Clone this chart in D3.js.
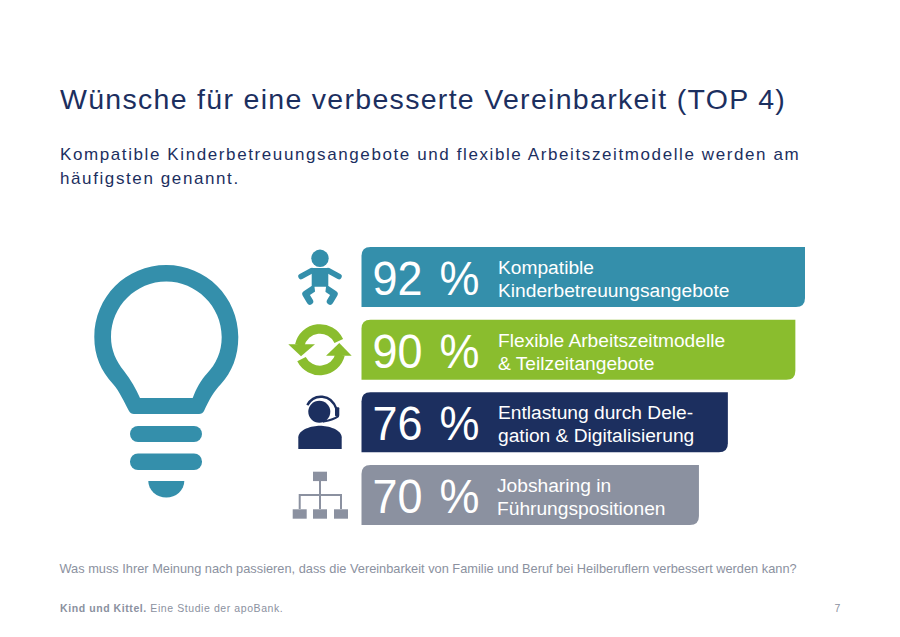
<!DOCTYPE html>
<html>
<head>
<meta charset="utf-8">
<script src="https://cdn.jsdelivr.net/npm/d3@7"></script>
<style>
  html, body { margin: 0; padding: 0; background: #fff; }
  text { font-family: "Liberation Sans", Arial, sans-serif; }
</style>
</head>
<body>
<div id="chart"></div>
<script>
const categories = ["kinder", "arbeitszeit", "entlastung", "jobsharing"];
const values = [92, 90, 76, 70];
const labelLines = [
    ["Kompatible", "Kinderbetreuungsangebote"],
    ["Flexible Arbeitszeitmodelle", "& Teilzeitangebote"],
    ["Entlastung durch Dele-", "gation & Digitalisierung"],
    ["Jobsharing in", "Führungspositionen"]
];
const barColors = ["#348fab", "#8abd2e", "#1c2f5f", "#8b91a0"];

const navy = "#1c2f5f";
const grey = "#8b91a0";
const teal = "#348fab";

const width = 900;
const height = 637;

const svg = d3.select("#chart")
    .append("svg")
    .attr("width", width)
    .attr("height", height)
    .style("display", "block");

// Heading
svg.append("text").attr("x", 60).attr("y", 109)
    .attr("font-size", 28.5).attr("letter-spacing", 1.3).attr("fill", navy)
    .text("Wünsche für eine verbesserte Vereinbarkeit (TOP 4)");

const subtitle = ["Kompatible Kinderbetreuungsangebote und flexible Arbeitszeitmodelle werden am", "häufigsten genannt."];
svg.selectAll("text.sub").data(subtitle).enter().append("text")
    .attr("class", "sub")
    .attr("x", 60).attr("y", (d, i) => 160 + i * 24)
    .attr("font-size", 17).attr("letter-spacing", 1.6).attr("fill", navy)
    .text(d => d);

// Bars
const x = d3.scaleLinear().domain([0, 92]).range([361.5, 805]);
const y = d3.scaleBand().domain(categories).range([247, 525]).paddingInner(0.174);

function barPath(v, c) {
    // rounded top-left and bottom-right corners only
    const r = 9, x0 = x(0), x1 = x(v), y0 = y(c), y1 = y(c) + y.bandwidth();
    const p = d3.path();
    p.moveTo(x0, y1);
    p.lineTo(x0, y0 + r);
    p.quadraticCurveTo(x0, y0, x0 + r, y0);
    p.lineTo(x1, y0);
    p.lineTo(x1, y1 - r);
    p.quadraticCurveTo(x1, y1, x1 - r, y1);
    p.closePath();
    return p.toString();
}

const rows = svg.selectAll("g.row")
    .data(categories)
    .enter()
    .append("g")
    .attr("class", "row");

rows.append("path")
    .attr("d", (c, i) => barPath(values[i], c))
    .attr("fill", (c, i) => barColors[i]);

// the big numbers are a bit condensed in the original
rows.append("text")
    .attr("x", 372.5)
    .attr("y", c => y(c) + 48)
    .attr("font-size", 49)
    .attr("fill", "#fff")
    .attr("word-spacing", 5)
    .attr("textLength", 107)
    .attr("lengthAdjust", "spacingAndGlyphs")
    .text((c, i) => values[i] + " %");

rows.each(function (c, i) {
    d3.select(this).selectAll("text.label")
        .data(labelLines[i])
        .enter()
        .append("text")
        .attr("class", "label")
        .attr("x", i === 3 ? 497 : 498)
        .attr("y", (d, j) => y(c) + 27 + j * 23)
        .attr("font-size", 19.2)
        .attr("fill", "#fff")
        .text(d => d);
});

// Icons, each drawn around the centre of its row
const iconX = 320;
const icon = c => svg.append("g")
    .attr("transform", `translate(${iconX},${y(c) + y.bandwidth() / 2})`);

// baby
const baby = icon(categories[0]).attr("fill", teal).attr("stroke", "none");
baby.append("circle").attr("cx", 0).attr("cy", -18.7).attr("r", 8.7);
baby.append("path").attr("d", "M-8.3 -9 H8.3 V12 H-8.3 Z");
baby.append("path").attr("fill", "none").attr("stroke", teal).attr("stroke-width", 5.5)
    .attr("stroke-linecap", "round").attr("stroke-linejoin", "round")
    .attr("d", "M-8 -6.5 L-19 -0.5 M8 -6.5 L19 -0.5");
baby.append("path").attr("fill", "none").attr("stroke", teal).attr("stroke-width", 6.5)
    .attr("stroke-linecap", "round").attr("stroke-linejoin", "round")
    .attr("d", "M-7 12 L-14.5 17 L-10 24.5 M7 12 L14.5 17 L10 24.5");
baby.append("path").attr("fill", "#fff").attr("d", "M-5.5 9.7 H6 L5 18 H-4.5 Z");

// arrows going round
const ring = d3.arc().innerRadius(16).outerRadius(25.5);
const turn = icon(categories[1]).attr("fill", barColors[1]);
const deg = Math.PI / 180;
turn.append("path").attr("d", ring({ startAngle: -78 * deg, endAngle: 65 * deg }));
turn.append("path").attr("d", ring({ startAngle: 104 * deg, endAngle: 243 * deg }));
turn.append("path").attr("d", "M-31.7 -5.5 H-5 L-19 6.5 Z");
turn.append("path").attr("d", "M31.7 6 H6 L19.3 -6.7 Z");

// person with headset
const agent = icon(categories[2]).attr("fill", navy);
agent.append("path").attr("d", "M-21.7 26.7 V15 C-21.7 7 -8 3.3 0 3.3 C8 3.3 21.7 7 21.7 15 V26.7 Z");
agent.append("circle").attr("cx", -0.7).attr("cy", -10.5).attr("r", 11);
agent.append("path").attr("fill", "none").attr("stroke", navy).attr("stroke-width", 2.4)
    .attr("d", "M-12.7 -17.3 C-6 -29 11 -29 16.7 -13");
agent.append("rect").attr("x", 15).attr("y", -15).attr("width", 4.3).attr("height", 9).attr("rx", 1);
agent.append("path").attr("fill", "none").attr("stroke", navy).attr("stroke-width", 2)
    .attr("stroke-linecap", "round").attr("d", "M18 -6 Q14 -3 3.5 -0.7");

// org chart
const org = icon(categories[3]).attr("fill", grey);
org.append("path").attr("fill", "none").attr("stroke", grey).attr("stroke-width", 2)
    .attr("d", "M0 -14 V14 M-20.3 14 V0 H21 V14");
org.selectAll("rect").data([[0, -23.3], [-20.3, 14.3], [0, 14.3], [21, 14.3]]).enter().append("rect")
    .attr("x", d => d[0] - 7).attr("y", d => d[1]).attr("width", 14).attr("height", 9.4);

// Light bulb
const bulb = svg.append("g").attr("fill", teal);
bulb.append("path")
    .attr("fill-rule", "evenodd")
    .attr("d", "M166.3 265 C126 265 94.3 297 94.3 337 C94.3 356 101 371 113 384 C120 392 124 402 129 411 Q130.5 414 134 414 H199 Q202.5 414 204 411 C209 400 214 391 221 384 C232 372 238.3 356 238.3 337 C238.3 297 206 265 166.3 265 Z"
        + "M166.3 281.5 C196 281.5 221.7 306 221.7 337 C221.7 352 216 364 207 373.5 C201 380 196 389 192.7 398 H140 C136 389 131 380 124 371 C116 361 111 350 111 337 C111 306 136 281.5 166.3 281.5 Z");
bulb.append("rect").attr("x", 130).attr("y", 426).attr("width", 72).attr("height", 16).attr("rx", 8);
bulb.append("rect").attr("x", 130).attr("y", 453.5).attr("width", 72).attr("height", 16.5).attr("rx", 8);
bulb.append("path").attr("d", "M148.3 481 H184.3 A18 16.5 0 0 1 148.3 481 Z");

// Footnote and footer
svg.append("text").attr("x", 59.5).attr("y", 573)
    .attr("font-size", 12.8).attr("fill", grey)
    .text("Was muss Ihrer Meinung nach passieren, dass die Vereinbarkeit von Familie und Beruf bei Heilberuflern verbessert werden kann?");

const foot = svg.append("text").attr("x", 60).attr("y", 612)
    .attr("font-size", 10.5).attr("letter-spacing", 0.58).attr("fill", grey);
foot.append("tspan").attr("font-weight", "bold").text("Kind und Kittel.");
foot.append("tspan").text(" Eine Studie der apoBank.");

svg.append("text").attr("x", 834.5).attr("y", 612)
    .attr("font-size", 10.5).attr("fill", grey)
    .text("7");
</script>
</body>
</html>
